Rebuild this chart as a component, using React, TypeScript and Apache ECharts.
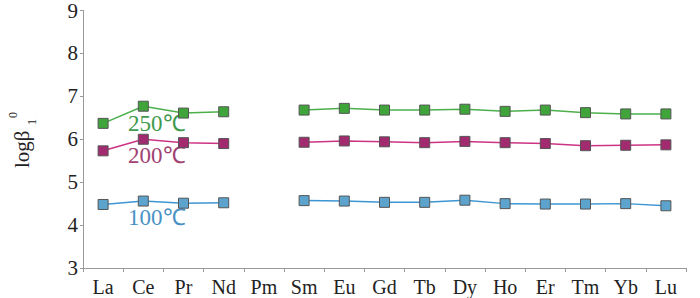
import React, { useEffect, useRef } from "react";
import * as echarts from "echarts";

const categories = ["La", "Ce", "Pr", "Nd", "Pm", "Sm", "Eu", "Gd", "Tb", "Dy", "Ho", "Er", "Tm", "Yb", "Lu"];
const yTicks = [3, 4, 5, 6, 7, 8, 9];
const series250 = [6.37, 6.77, 6.61, 6.64, null, 6.68, 6.72, 6.68, 6.68, 6.70, 6.65, 6.68, 6.62, 6.59, 6.59];
const series200 = [5.73, 6.0, 5.92, 5.90, null, 5.93, 5.96, 5.94, 5.92, 5.95, 5.92, 5.90, 5.85, 5.86, 5.87];
const series100 = [4.48, 4.56, 4.51, 4.52, null, 4.57, 4.56, 4.53, 4.53, 4.58, 4.50, 4.49, 4.49, 4.50, 4.45];
const seriesNames = ["250℃", "200℃", "100℃"];

const SERIF = "Liberation Serif";

export default function App() {
  const ref = useRef<HTMLDivElement>(null);
  useEffect(() => {
    document.body.style.margin = "0";
    const chart = echarts.init(ref.current!, null, { renderer: "svg" });
    const mk = (name: string, data: (number | null)[], line: string, fill: string) => ({
      name,
      type: "line",
      data,
      connectNulls: false,
      symbol: "rect",
      symbolSize: 10,
      lineStyle: { color: line, width: 1.5 },
      itemStyle: { color: fill, borderColor: "#555", borderWidth: 1 },
      z: 3,
    });
    const tempText = (text: string, top: number, fill: string) => ({
      type: "text",
      left: 128,
      top,
      style: { text, fontFamily: SERIF, fontSize: 23, fill },
    });
    chart.setOption({
      animation: false,
      textStyle: { fontFamily: SERIF },
      grid: { left: 83, right: 14, top: 9, bottom: 30 },
      xAxis: {
        type: "category",
        data: categories,
        boundaryGap: true,
        axisLine: { lineStyle: { color: "#999", width: 1 } },
        axisTick: { show: true, length: 4, lineStyle: { color: "#999" } },
        axisLabel: { color: "#222", fontFamily: SERIF, fontSize: 20, margin: 9 },
        splitLine: { show: false },
      },
      yAxis: {
        type: "value",
        min: yTicks[0],
        max: yTicks[yTicks.length - 1],
        interval: 1,
        axisLine: { show: true, lineStyle: { color: "#999", width: 1 } },
        axisTick: { show: true, length: 3, lineStyle: { color: "#999" } },
        axisLabel: { color: "#222", fontFamily: SERIF, fontSize: 21, margin: 5 },
        splitLine: { show: false },
      },
      graphic: [
        {
          type: "group",
          x: 32,
          y: 168,
          rotation: Math.PI / 2,
          children: [
            { type: "text", x: 0, y: 0, style: { text: "logβ", fontFamily: SERIF, fontSize: 21, fill: "#222", verticalAlign: "bottom" } },
            { type: "text", x: 43, y: 6, style: { text: "1", fontFamily: SERIF, fontSize: 12, fill: "#222", verticalAlign: "bottom" } },
            { type: "text", x: 50, y: -13, style: { text: "0", fontFamily: SERIF, fontSize: 12, fill: "#222", verticalAlign: "bottom" } },
          ],
        },
        tempText(seriesNames[0], 112, "#3f9a4c"),
        tempText(seriesNames[1], 144, "#a04272"),
        tempText(seriesNames[2], 206, "#4a92c6"),
      ],
      series: [
        mk(seriesNames[0], series250, "#4caf4c", "#3fa43a"),
        mk(seriesNames[1], series200, "#cc3384", "#a12b6e"),
        mk(seriesNames[2], series100, "#3d96d2", "#5ca4cd"),
      ],
    });
    return () => chart.dispose();
  }, []);
  return <div ref={ref} style={{ width: 700, height: 298 }} />;
}
